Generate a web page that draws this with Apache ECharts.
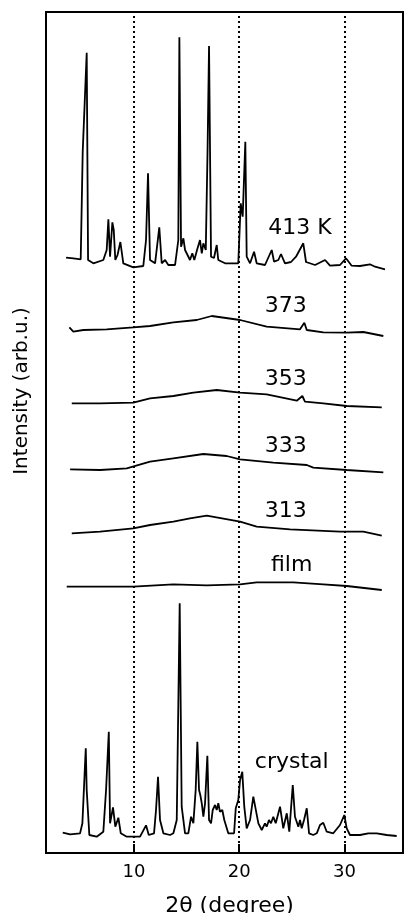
<!DOCTYPE html>
<html><head><meta charset="utf-8">
<script src="https://cdn.jsdelivr.net/npm/echarts@6/dist/echarts.min.js"></script>
<style>html,body{margin:0;padding:0;background:#fff}#c{width:404px;height:913px}</style>
</head><body><div id="c"></div>
<script>
// x axis: 2θ (degree); y: intensity (arb.u.), traces stacked with offsets already included
const xTicks = [10, 20, 30];
const dottedX = [10, 20, 30];
const xName = '2θ (degree)';
const yName = 'Intensity (arb.u.)';

const trace413 = [[3.54,595.3],[4.23,594.7],[4.93,593.7],[5.12,701.3],[5.50,800.3],[5.63,593],[6.13,589.7],[7.08,593],[7.40,603],[7.56,633.7],[7.72,596.3],[7.94,630.7],[8.07,623],[8.22,593],[8.43,598],[8.70,611],[8.98,589.7],[9.93,585.7],[10.88,587],[11.14,613],[11.33,679.7],[11.52,593],[12.0,589.7],[12.40,625.7],[12.63,589.7],[12.95,593],[13.26,588],[13.90,588],[14.21,613],[14.31,815.7],[14.47,606.3],[14.69,614.7],[14.85,603],[15.32,593],[15.54,599.7],[15.73,593],[15.99,603],[16.27,613],[16.44,599.7],[16.59,609.7],[16.82,603],[16.99,703],[17.13,807],[17.32,596.3],[17.60,595],[17.86,608],[18.01,593],[18.65,589.7],[19.91,589.7],[20.14,649.7],[20.33,636.3],[20.58,711.3],[20.71,596.3],[21.03,589.7],[21.41,601.3],[21.66,589.7],[22.45,588],[23.09,603],[23.31,591.3],[23.72,593],[23.97,599],[24.35,589.7],[24.92,591],[25.40,596.3],[26.09,609.7],[26.35,591],[27.21,588],[28.16,593],[28.63,587.3],[29.58,588],[30.15,594.7],[30.69,587.3],[31.48,587],[32.43,588.7],[32.91,586.3],[33.86,583.7]];
const trace373 = [[3.85,525.7],[4.23,521.3],[5.18,523],[7.40,523.7],[9.93,525.7],[11.52,527],[13.74,530.7],[15.96,533],[17.39,537],[20.08,533],[22.61,526.3],[25.78,523.7],[26.19,530.3],[26.42,523],[27.99,520.7],[30.22,520.3],[31.80,521],[33.70,517]];
const trace353 = [[4.08,449.7],[6.77,449.7],[9.93,450.3],[11.52,454.7],[13.74,457],[15.64,460.3],[17.86,463],[20.08,460.3],[22.61,458.7],[25.47,452.3],[26.00,457],[26.25,451.3],[27.99,449.7],[30.22,447],[33.55,445.7]];
const trace333 = [[3.92,383.7],[6.77,383],[9.31,384.7],[11.52,391.3],[13.74,394.7],[16.59,399],[18.81,397],[20.08,393.7],[23.24,390.3],[26.42,388],[27.04,385.3],[30.22,383],[33.70,380.7]];
const trace313 = [[4.08,319.7],[6.77,321.3],[9.93,324.7],[11.52,328],[13.74,331.3],[15.32,334.7],[16.91,337.3],[20.08,331.3],[21.66,326.3],[24.83,323.7],[29.58,321.3],[31.80,321.3],[33.55,317.3]];
const traceFilm = [[3.60,266.3],[7.40,266.3],[9.93,266.3],[13.74,268.7],[16.91,267.7],[20.08,268.7],[21.66,270.7],[25.14,270.7],[27.99,268.7],[30.22,267],[33.55,263]];
const traceCrystal = [[3.22,20.3],[3.92,18.7],[4.87,19.7],[5.09,29.7],[5.41,104.7],[5.50,63],[5.75,18],[6.45,16.3],[7.08,21.3],[7.34,63],[7.60,121.3],[7.72,29.7],[7.81,28],[8.00,45.7],[8.22,26.3],[8.51,35.3],[8.74,19.7],[9.31,16.3],[10.57,16.3],[11.14,27.7],[11.40,18],[11.90,19.7],[12.09,43],[12.28,76.3],[12.47,33],[12.79,19.7],[13.42,18],[13.74,19.7],[14.06,33],[14.34,249.7],[14.53,46.3],[14.85,19.7],[15.16,19.7],[15.42,36.3],[15.64,29.7],[15.86,63],[16.02,111.3],[16.18,63],[16.30,58],[16.44,49.7],[16.59,36.3],[16.75,49.7],[16.97,97.3],[17.13,33],[17.32,29.7],[17.48,43],[17.70,48],[17.86,43],[18.01,49.7],[18.17,41.3],[18.39,43],[18.58,33],[18.96,19.7],[19.51,19.7],[19.67,44.7],[19.91,53],[20.08,73],[20.29,81.3],[20.48,46.3],[20.71,24.7],[21.03,33],[21.34,56.3],[21.82,29.7],[22.14,23],[22.45,29.7],[22.61,26.3],[22.83,33],[23.02,29.7],[23.24,36.3],[23.47,29.7],[23.88,46.3],[24.19,24.7],[24.52,39.7],[24.76,21.3],[25.09,68],[25.30,36.3],[25.62,26.3],[25.78,33],[25.94,24.7],[26.16,33],[26.42,44.7],[26.64,19.7],[27.04,18],[27.37,19.7],[27.68,28],[27.99,30.3],[28.32,21.3],[28.94,19.7],[29.58,28],[29.99,38],[30.22,24.7],[30.53,18],[31.48,18],[32.27,19.7],[33.07,19.7],[34.02,18],[34.97,17]];

const traceLabels = ['413 K','373','353','333','313','film','crystal'];
const traceLabelPos = [[25.78,624.7],[24.42,546.3],[24.42,474],[24.42,407],[24.42,341.3],[24.99,288],[24.99,90.3]];
const traces = [trace413, trace373, trace353, trace333, trace313, traceFilm, traceCrystal];

const FONT = 'DejaVu Sans';
const chart = echarts.init(document.getElementById('c'), null, {renderer:'canvas'});
const series = traces.map((d, i) => ({
  type: 'line', data: d, symbol: 'none', smooth: false,
  lineStyle: {color: '#000', width: 1.8}, z: 3,
  markPoint: {
    symbol: 'circle', symbolSize: 0, silent: true,
    label: {show: true, position: 'inside', formatter: traceLabels[i], color: '#000', fontFamily: FONT, fontSize: 22},
    data: [{coord: traceLabelPos[i]}]
  },
  markLine: i === 0 ? {
    silent: true, symbol: ['none','none'], label: {show: false},
    lineStyle: {color: '#000', type: [2, 3], width: 2},
    data: dottedX.map(v => ({xAxis: v}))
  } : undefined
}));

chart.setOption({
  animation: false,
  backgroundColor: '#fff',
  grid: {left: 46, right: 1, top: 12, bottom: 60, outerBoundsMode: 'none', containLabel: false,
         show: true, borderColor: '#000', borderWidth: 2, backgroundColor: 'transparent'},
  xAxis: {
    type: 'value', min: 1.63, max: 35.57,
    name: xName, nameLocation: 'middle', nameGap: 42,
    nameTextStyle: {fontFamily: FONT, fontSize: 22, color: '#000', padding: [0, 0, 0, 10]},
    axisLine: {show: true, lineStyle: {color: '#000', width: 2}},
    axisTick: {show: true, inside: true, length: 9, customValues: xTicks, lineStyle: {color: '#000', width: 2}},
    axisLabel: {show: true, customValues: xTicks, margin: 10, fontFamily: FONT, fontSize: 18, color: '#000'},
    splitLine: {show: false}
  },
  yAxis: {
    type: 'value', min: 0, max: 841,
    axisLine: {show: true, lineStyle: {color: '#000', width: 2}},
    axisTick: {show: false}, axisLabel: {show: false}, splitLine: {show: false}
  },
  graphic: [{
    type: 'text', x: 22, y: 391, rotation: Math.PI / 2,
    style: {text: yName, fontFamily: FONT, fontSize: 20, fill: '#000', align: 'center', verticalAlign: 'middle'}
  }],
  series: series
});
</script>
</body></html>
